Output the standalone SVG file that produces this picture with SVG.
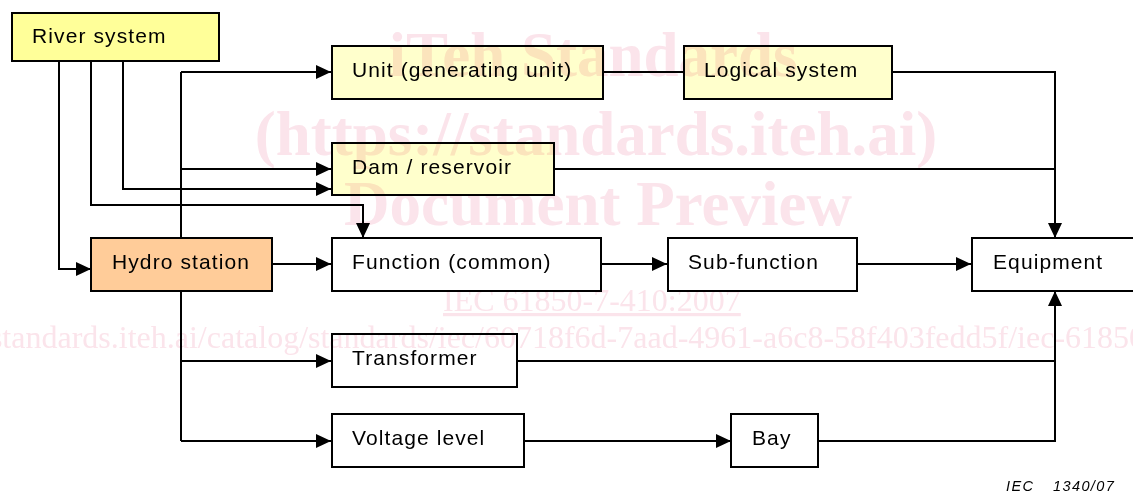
<svg xmlns="http://www.w3.org/2000/svg" width="1133" height="495" viewBox="0 0 1133 495">
<style>
.box{stroke:#000;stroke-width:2}
.lbl{font-family:"Liberation Sans",Arial,sans-serif;font-size:21px;letter-spacing:1.1px;fill:#000}
.wire{fill:none;stroke:#000;stroke-width:2}
.arr{marker-end:url(#ah)}
.wmb{font-family:"Liberation Serif","Times New Roman",serif;font-weight:bold;font-size:63px;fill:#FBE4EB;text-anchor:middle}
.wmr{font-family:"Liberation Serif","Times New Roman",serif;font-size:32px;fill:#FBE4EB}
</style>
<defs>
<marker id="ah" markerWidth="15" markerHeight="14" refX="15" refY="7" orient="auto" markerUnits="userSpaceOnUse"><path d="M0,0 L15,7 L0,14 z" fill="#000"/></marker>
</defs>
<rect width="1133" height="495" fill="#fff"/>
<g id="connectors">
<path class="wire arr" d="M59,61 V269 H91"/>
<path class="wire arr" d="M91,61 V205 H363 V238"/>
<path class="wire arr" d="M123,61 V189 H331"/>
<path class="wire" d="M181,72 V441"/>
<path class="wire arr" d="M181,72 H331"/>
<path class="wire arr" d="M181,169 H331"/>
<path class="wire arr" d="M181,361 H331"/>
<path class="wire arr" d="M181,441 H331"/>
<path class="wire arr" d="M272,264 H331"/>
<path class="wire arr" d="M601,264 H667"/>
<path class="wire arr" d="M857,264 H971"/>
<path class="wire" d="M603,72 H683"/>
<path class="wire arr" d="M892,72 H1055 V238"/>
<path class="wire" d="M554,169 H1055"/>
<path class="wire" d="M517,361 H1055"/>
<path class="wire arr" d="M524,441 H731"/>
<path class="wire arr" d="M818,441 H1055 V291"/>
</g>
<g id="river"><rect class="box" x="12" y="13" width="207" height="48" fill="#FFFF99"/><text class="lbl" x="32" y="43">River system</text></g>
<g id="unit"><rect class="box" x="332" y="46" width="271" height="53" fill="#FFFFCC"/><text class="lbl" x="352" y="77">Unit (generating unit)</text></g>
<g id="logical"><rect class="box" x="684" y="46" width="208" height="53" fill="#FFFFCC"/><text class="lbl" x="704" y="77">Logical system</text></g>
<g id="dam"><rect class="box" x="332" y="143" width="222" height="52" fill="#FFFFCC"/><text class="lbl" x="352" y="174">Dam / reservoir</text></g>
<g id="hydro"><rect class="box" x="91" y="238" width="181" height="53" fill="#FFCC99"/><text class="lbl" x="112" y="269">Hydro station</text></g>
<g id="function"><rect class="box" x="332" y="238" width="269" height="53" fill="#fff"/><text class="lbl" x="352" y="269">Function (common)</text></g>
<g id="subfunction"><rect class="box" x="668" y="238" width="189" height="53" fill="#fff"/><text class="lbl" x="688" y="269">Sub-function</text></g>
<g id="equipment"><rect class="box" x="972" y="238" width="170" height="53" fill="#fff"/><text class="lbl" x="993" y="269">Equipment</text></g>
<g id="transformer"><rect class="box" x="332" y="334" width="185" height="53" fill="#fff"/><text class="lbl" x="352" y="365">Transformer</text></g>
<g id="voltage"><rect class="box" x="332" y="414" width="192" height="53" fill="#fff"/><text class="lbl" x="352" y="445">Voltage level</text></g>
<g id="bay"><rect class="box" x="731" y="414" width="87" height="53" fill="#fff"/><text class="lbl" x="752" y="445">Bay</text></g>
<text x="1006" y="491" font-family="Liberation Sans, Arial, sans-serif" font-size="14.5" font-style="italic" letter-spacing="1.4">IEC<tspan x="1053">1340/07</tspan></text>
<g id="watermark" style="mix-blend-mode:multiply">
<text class="wmb" x="593" y="76">iTeh Standards</text>
<text class="wmb" x="596" y="155">(https://standards.iteh.ai)</text>
<text class="wmb" x="598" y="225">Document Preview</text>
<text class="wmr" x="443" y="311" text-decoration="underline">IEC 61850-7-410:2007</text>
<text class="wmr" x="-99" y="348">https://standards.iteh.ai/catalog/standards/iec/60718f6d-7aad-4961-a6c8-58f403fedd5f/iec-61850-7-410-2007</text>
</g>
</svg>
